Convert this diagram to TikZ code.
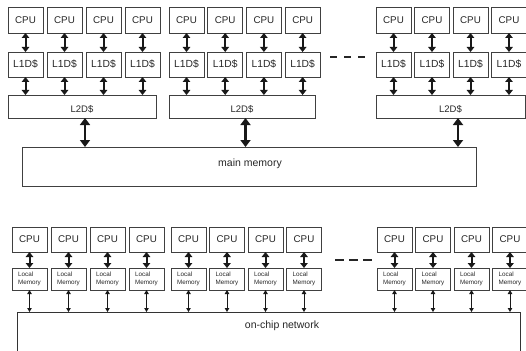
\documentclass[tikz,border=0pt]{standalone}
\usepackage{fontspec}
\setmainfont{Liberation Sans}
\usetikzlibrary{arrows.meta}
\begin{document}
\begin{tikzpicture}[x=1pt,y=-1pt,
  box/.style={draw=black!75, line width=0.7pt, inner sep=0pt, outer sep=0pt, anchor=north west, text=black!85},
  cpu/.style={box, minimum width=35pt, minimum height=26pt, font=\fontsize{9.8}{10}\selectfont},
  lone/.style={box, minimum width=35pt, minimum height=25pt, font=\fontsize{10.3}{11}\selectfont},
  ltwo/.style={box, minimum height=23pt},
  lmem/.style={box, minimum width=35pt, minimum height=22pt, align=left, font=\fontsize{6.3}{8}\selectfont},
  midarr/.style={line width=2pt, black!90, {Triangle[length=5pt,width=7.5pt]}-{Triangle[length=5pt,width=7.5pt]}},
  hugearr/.style={line width=2.4pt, black!90, {Triangle[length=7pt,width=10pt]}-{Triangle[length=7pt,width=10pt]}},
  thinarr/.style={line width=0.9pt, black!90, {Triangle[length=4pt,width=4.5pt]}-{Triangle[length=4pt,width=4.5pt]}},
  dsh/.style={line width=2pt, black!85},
  lbl/.style={font=\fontsize{9.5}{10}\selectfont, text=black!85},
  big/.style={font=\fontsize{10.5}{12}\selectfont, text=black!85},
  frame/.style={draw=black!80, line width=0.8pt}
]
\useasboundingbox (0,0) rectangle (526,350);

% ---------- top: cache hierarchy ----------
\foreach \g/\gx/\p in {1/8/39, 2/169/38.7, 3/376/38.5} {
  \foreach \i in {0,...,3} {
    \node[cpu] (c\g\i) at ({\gx+\p*\i},7) {CPU};
    \node[lone] (l\g\i) at ({\gx+\p*\i},52) {L1D\$};
  }
}
\node[ltwo, minimum width=148pt] (m1) at (8,95) {};
\node[ltwo, minimum width=146pt] (m2) at (169,95) {};
\node[ltwo, minimum width=149pt] (m3) at (376,95) {};
\foreach \g in {1,2,3} {
  \node[lbl] (t\g) at ([yshift=-2.5pt]m\g.center) {L2D\$};
}
\foreach \g in {1,2,3} {
  \foreach \i in {0,...,3} {
    \draw[midarr] (c\g\i.south) -- (l\g\i.north);
    \draw[midarr] (l\g\i.south) -- (l\g\i.south |- m\g.north);
  }
}
\node[box, minimum width=454pt, minimum height=39pt] (mm) at (22,147) {};
\node[big] (mmt) at ([xshift=1pt,yshift=3pt]mm.center) {main memory};
\draw[hugearr] ([xshift=3pt]m1.south) -- ([xshift=3pt]m1.south |- mm.north);
\draw[hugearr] ([xshift=3.5pt]m2.south) -- ([xshift=3.5pt]m2.south |- mm.north);
\draw[hugearr] ([xshift=7.5pt]m3.south) -- ([xshift=7.5pt]m3.south |- mm.north);

\coordinate (d1a) at (330,57); \coordinate (d1b) at (337,57);
\coordinate (d2a) at (344,57); \coordinate (d2b) at (351,57);
\coordinate (d3a) at (358,57); \coordinate (d3b) at (365,57);
\draw[dsh] (d1a) -- (d1b) (d2a) -- (d2b) (d3a) -- (d3b);

% ---------- bottom: local memories ----------
\foreach \g/\gx/\p in {1/12/39, 2/171/38.5, 3/377/38.5} {
  \foreach \i in {0,...,3} {
    \node[cpu, minimum height=25pt] (bc\g\i) at ({\gx+\p*\i},227) {CPU};
    \node[lmem] (bl\g\i) at ({\gx+\p*\i},268) {Local\\Memory};
  }
}
\node[inner sep=0pt, outer sep=0pt, minimum width=503pt, minimum height=40pt, anchor=north west] (net) at (17,312) {};
\draw[frame] (net.south west) -- (net.north west) -- (net.north east) -- (net.south east);
\node[big] (nett) at (282,326) {on-chip network};
\foreach \g in {1,2,3} {
  \foreach \i in {0,...,3} {
    \draw[midarr] (bc\g\i.south) -- (bl\g\i.north);
    \draw[thinarr] (bl\g\i.south) -- (bl\g\i.south |- net.north);
  }
}
\coordinate (e1a) at (335,260); \coordinate (e1b) at (344,260);
\coordinate (e2a) at (349,260); \coordinate (e2b) at (358,260);
\coordinate (e3a) at (363,260); \coordinate (e3b) at (372,260);
\draw[dsh] (e1a) -- (e1b) (e2a) -- (e2b) (e3a) -- (e3b);
\end{tikzpicture}
\end{document}
